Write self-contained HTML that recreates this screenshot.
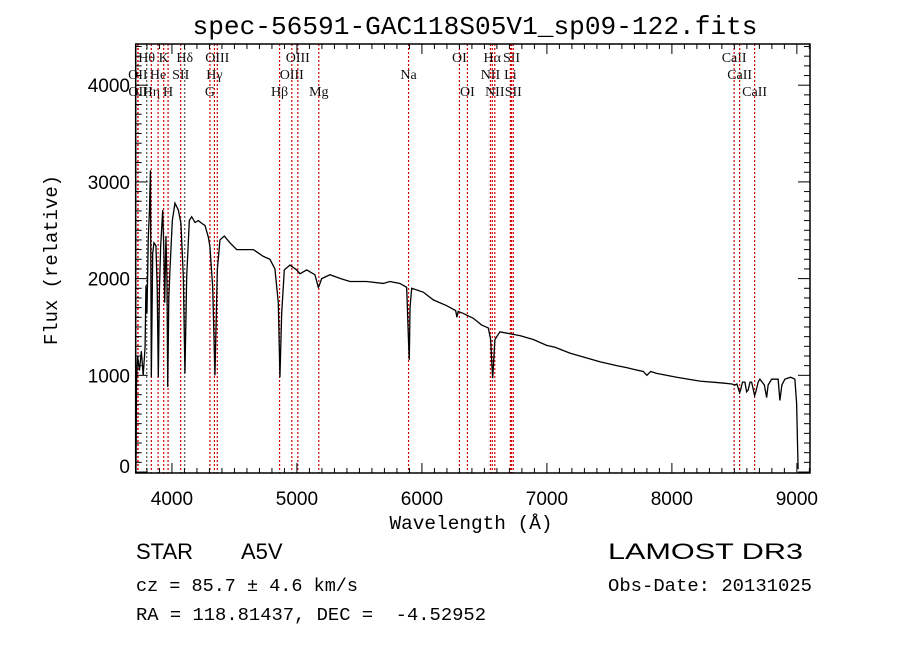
<!DOCTYPE html>
<html><head><meta charset="utf-8"><style>
html,body{margin:0;padding:0;background:#fff;}
svg{display:block;}
</style></head><body>
<svg id="chart" width="900" height="649" viewBox="0 0 900 649" xmlns="http://www.w3.org/2000/svg">
<rect width="900" height="649" fill="#fff"/>
<text x="475" y="34" text-anchor="middle" font-family="Liberation Mono, monospace" font-size="26" textLength="565" lengthAdjust="spacingAndGlyphs">spec-56591-GAC118S05V1_sp09-122.fits</text>
<g id="lines"></g>
<g id="axes"></g>
<path id="spec" fill="none" stroke="#000" stroke-width="1.3"/>
<text x="471" y="529" text-anchor="middle" font-family="Liberation Mono, monospace" font-size="19" textLength="163" lengthAdjust="spacingAndGlyphs">Wavelength (Å)</text>
<text transform="translate(57,260) rotate(-90)" text-anchor="middle" font-family="Liberation Mono, monospace" font-size="19" textLength="170" lengthAdjust="spacingAndGlyphs">Flux (relative)</text>
<text x="136" y="559" font-family="Liberation Sans, sans-serif" font-size="22">STAR</text>
<text x="241" y="559" font-family="Liberation Sans, sans-serif" font-size="22">A5V</text>
<text x="608" y="559" font-family="Liberation Sans, sans-serif" font-size="22" textLength="195" lengthAdjust="spacingAndGlyphs">LAMOST DR3</text>
<text x="136" y="591" font-family="Liberation Mono, monospace" font-size="18" textLength="222" lengthAdjust="spacingAndGlyphs">cz = 85.7 ± 4.6 km/s</text>
<text x="608" y="591" font-family="Liberation Mono, monospace" font-size="18" textLength="204" lengthAdjust="spacingAndGlyphs">Obs-Date: 20131025</text>
<text x="136" y="620" font-family="Liberation Mono, monospace" font-size="18" textLength="350" lengthAdjust="spacingAndGlyphs" xml:space="preserve">RA = 118.81437, DEC =  -4.52952</text>
</svg>
<script>
const wavelengths=[3712,3714,3716,3725,3740,3755,3770,3785,3792,3800,3811,3820,3828,3835,3846,3856,3872,3882,3891,3900,3910,3926,3935,3942,3952,3960,3966,3975,3984,4003,4024,4051,4072,4091,4104,4118,4139,4158,4185,4211,4240,4264,4291,4304,4326,4344,4363,4384,4419,4464,4518,4584,4651,4731,4784,4824,4851,4864,4878,4899,4944,4998,5024,5078,5144,5171,5176,5198,5264,5350,5424,5558,5691,5744,5824,5878,5893,5899,5905,5918,6011,6091,6198,6270,6280,6290,6331,6411,6478,6531,6550,6560,6566,6572,6584,6624,6704,6784,6891,6998,7065,7184,7291,7424,7558,7638,7700,7771,7800,7830,7878,8038,8224,8411,8480,8504,8520,8542,8550,8565,8584,8598,8611,8625,8638,8662,8672,8690,8704,8740,8758,8770,8798,8850,8864,8880,8904,8950,8984,8998,9005,9010];
const fluxes=[0,300,900,1200,1050,1250,1000,1290,1930,1640,2430,2700,3120,980,2260,2370,2340,1900,980,1900,2340,2710,2300,1750,2440,2000,880,1800,2090,2600,2780,2710,2570,2020,1020,2020,2600,2640,2580,2600,2570,2550,2430,2330,1910,1000,2090,2400,2440,2370,2300,2300,2300,2230,2200,2100,1750,980,1640,2090,2140,2090,2050,2090,2040,1910,1920,2000,2040,2000,1970,1970,1950,1970,1950,1910,1350,1160,1700,1900,1860,1780,1720,1670,1600,1660,1640,1590,1520,1490,1370,1100,970,1100,1370,1450,1430,1410,1370,1310,1290,1230,1190,1140,1100,1080,1060,1040,1000,1040,1020,980,940,920,910,900,910,820,850,930,930,830,850,930,930,790,830,930,960,900,770,900,960,960,740,900,960,980,960,710,300,30];
const xTicks=[4000,5000,6000,7000,8000,9000];
const yTicks=[0,1000,2000,3000,4000];
const lineWaves=[3727,3729,3798,3835,3889,3934,3969,4070,4102,4304,4340,4363,4861,4959,5007,5175,5893,6300,6364,6548,6563,6583,6708,6717,6731,8498,8542,8662];
const lineLabels=['OII','OII','Hθ','Hη','He','K','H','SII','Hδ','G','Hγ','OIII','Hβ','OIII','OIII','Mg','Na','OI','OI','NII','Hα','NII','Li','SII','SII','CaII','CaII','CaII'];
const lineRows=[2,3,1,3,2,1,3,2,1,3,2,1,3,2,1,3,2,1,3,2,1,3,2,1,3,1,2,3];

const X0=135.7,X1=810,Y0=473,Y1=44,XMIN=3710,XMAX=9105,YMIN=-10,YMAX=4426;
function sx(w){return X0+(w-XMIN)/(XMAX-XMIN)*(X1-X0);}
function sy(f){return Y0-(f-YMIN)/(YMAX-YMIN)*(Y0-Y1);}
const NS='http://www.w3.org/2000/svg';
function mk(tag,attrs,parent){const e=document.createElementNS(NS,tag);for(const k in attrs)e.setAttribute(k,attrs[k]);parent.appendChild(e);return e;}

const lg=document.getElementById('lines');
const rowY={1:62,2:79,3:96};
lineWaves.forEach((w,i)=>{
  const black=(w===4102||w===3798);
  const l=mk('line',{x1:sx(w),x2:sx(w),y1:Y1,y2:Y0,stroke:black?'#555':'#d00000','stroke-width':1.2,'stroke-dasharray':'2,2'},lg);
  
  
  const t=mk('text',{x:sx(w),y:rowY[lineRows[i]],'text-anchor':'middle','font-family':'Liberation Serif, serif','font-size':14,fill:'#111'},lg);
  
  
  t.textContent=lineLabels[i];
});

const ax=document.getElementById('axes');
const frame=mk('rect',{x:X0,y:Y1,width:X1-X0,height:Y0-Y1,fill:'none',stroke:'#000','stroke-width':1.5},ax);


for(let w=3800;w<=9100;w+=100){
  const major=w%1000===0,len=major?10:5;
  mk('line',{x1:sx(w),x2:sx(w),y1:Y0,y2:Y0-len,stroke:'#000','stroke-width':1},ax);
  mk('line',{x1:sx(w),x2:sx(w),y1:Y1,y2:Y1+len,stroke:'#000','stroke-width':1},ax);
}
for(let f=0;f<=4400;f+=100){
  const major=f%1000===0,len=major?12:6;
  mk('line',{x1:X0,x2:X0+len,y1:sy(f),y2:sy(f),stroke:'#000','stroke-width':1},ax);
  mk('line',{x1:X1,x2:X1-len,y1:sy(f),y2:sy(f),stroke:'#000','stroke-width':1},ax);
}
xTicks.forEach(w=>{
  const t=mk('text',{x:sx(w),y:505,'text-anchor':'middle','font-family':'Liberation Sans, sans-serif','font-size':19},ax);
  
  
  t.textContent=w;
});
yTicks.forEach(f=>{
  const yy=f===0?sy(f)+1:sy(f)+7;
  const t=mk('text',{x:130,y:yy,'text-anchor':'end','font-family':'Liberation Sans, sans-serif','font-size':19},ax);
  
  
  t.textContent=f;
});

let d='';
wavelengths.forEach((w,i)=>{d+=(i?'L':'M')+sx(w).toFixed(2)+','+sy(fluxes[i]).toFixed(2);});
document.getElementById('spec').setAttribute('d',d);
</script>
</body></html>
